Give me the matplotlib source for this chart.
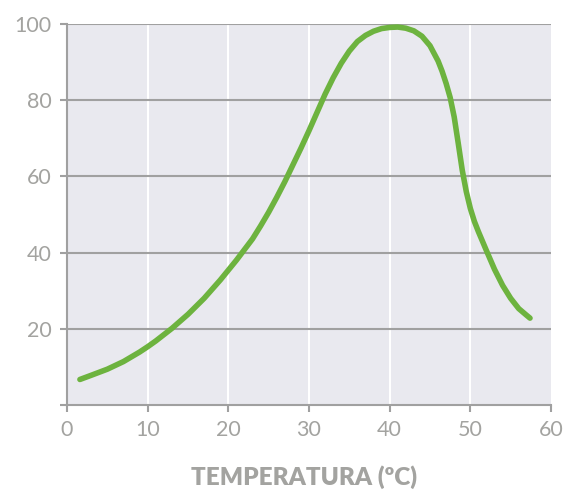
import matplotlib.pyplot as plt

# values
temp = [1.6, 3, 5, 7, 9, 10, 11, 13, 15, 17, 19, 21, 23, 24, 25, 26, 27, 28, 29, 30,
        31, 32, 33, 34, 35, 36, 37, 38, 39, 40, 41, 42, 43, 44, 45, 46, 46.5,
        47, 47.5, 48, 48.5, 49, 49.5, 50, 50.5, 51, 52, 53, 54, 55, 56, 57, 57.4]
activity = [6.7, 7.8, 9.4, 11.4, 13.9, 15.3, 16.8, 20.1, 23.8, 28.0, 32.8, 38.0,
            43.6, 47.0, 50.6, 54.5, 58.6, 63.0, 67.4, 72.0, 76.8, 81.6, 85.9,
            89.7, 92.9, 95.4, 97.0, 98.1, 98.8, 99.1, 99.2, 98.9, 98.2, 96.8,
            94.3, 90.3, 87.6, 84.4, 80.7, 75.6, 68.7, 61.6, 56.0, 51.6, 48.2,
            45.5, 40.5, 35.6, 31.4, 28.0, 25.3, 23.5, 22.8]
xticks = [0, 10, 20, 30, 40, 50, 60]
yticks = [20, 40, 60, 80, 100]

grey = '#a3a3a0'
plt.rcParams['font.family'] = ['Lato', 'DejaVu Sans']

fig = plt.figure(figsize=(5.72, 4.94), dpi=100)
ax = fig.add_axes([67 / 572, 89 / 494, 484 / 572, 381 / 494])
ax.set_facecolor('#e9e9ef')

ax.set_xlim(0, 60)
ax.set_ylim(0, 100)
ax.set_xticks(xticks)
ax.set_yticks(yticks + [0])
ax.set_yticklabels([str(t) for t in yticks] + [''])

# grid: white verticals, grey horizontals
for x in xticks[1:-1]:
    ax.axvline(x, color='white', lw=1.5, zorder=1)
for y in yticks:
    ax.axhline(y, color='#a0a0a0', lw=1.5, zorder=1)

ax.plot(temp, activity, color='#6db33f', lw=4, solid_capstyle='round',
        solid_joinstyle='round', zorder=3)

for side in ['top', 'right']:
    ax.spines[side].set_visible(False)
for side in ['left', 'bottom']:
    ax.spines[side].set_color('#a0a0a0')
    ax.spines[side].set_linewidth(1.5)

ax.tick_params(colors='#a0a0a0', width=1.5, length=5, labelsize=15.5,
               labelcolor=grey)
ax.tick_params(axis='x', pad=6)
ax.tick_params(axis='y', pad=6)

ax.set_xlabel('TEMPERATURA (ºC)', fontsize=17.5, fontweight='heavy', color=grey,
              va='center')
ax.xaxis.set_label_coords(0.49, -0.19)

fig.savefig('out.png', dpi=100)
